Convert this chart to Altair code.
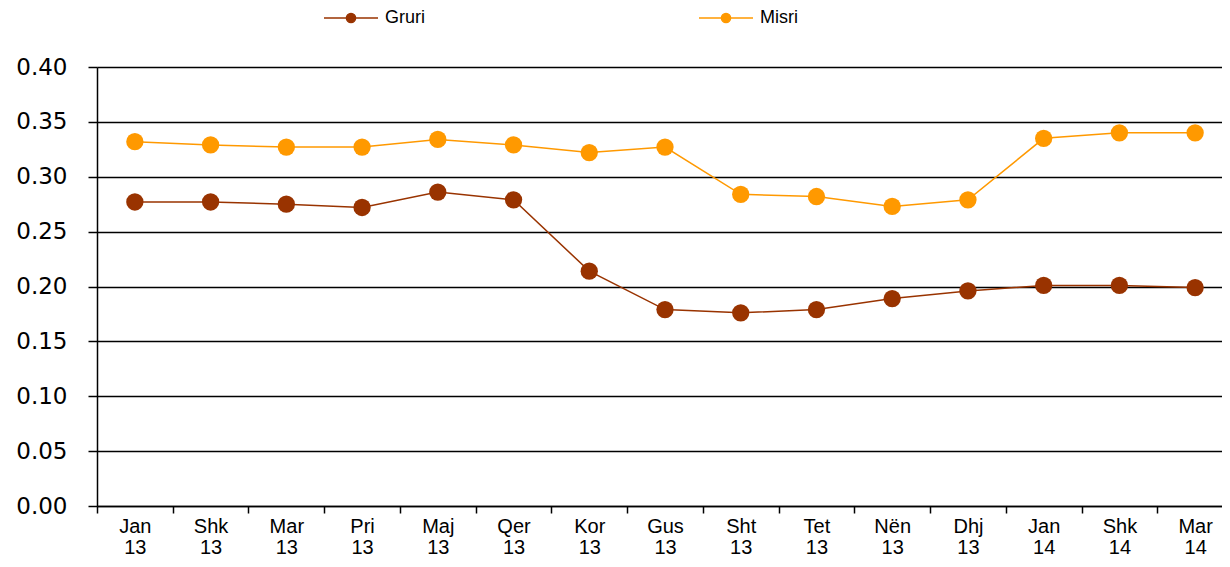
import altair as alt
import pandas as pd

months = ["Jan 13", "Shk 13", "Mar 13", "Pri 13", "Maj 13", "Qer 13", "Kor 13",
          "Gus 13", "Sht 13", "Tet 13", "Nën 13", "Dhj 13", "Jan 14", "Shk 14", "Mar 14"]
gruri = [0.277, 0.277, 0.275, 0.272, 0.286, 0.279, 0.214, 0.179, 0.176, 0.179,
         0.189, 0.196, 0.201, 0.201, 0.199]
misri = [0.332, 0.329, 0.327, 0.327, 0.334, 0.329, 0.322, 0.327, 0.284, 0.282,
         0.273, 0.279, 0.335, 0.340, 0.340]
series = ["Gruri", "Misri"]
colors = ["#993300", "#FF9900"]
y_ticks = [0.0, 0.05, 0.10, 0.15, 0.20, 0.25, 0.30, 0.35, 0.40]

rows = []
for i, m in enumerate(months):
    rows.append({"month": m, "series": "Gruri", "value": gruri[i]})
    rows.append({"month": m, "series": "Misri", "value": misri[i]})
df = pd.DataFrame(rows)

x = alt.X("month:N", sort=months,
          scale=alt.Scale(type="band", paddingInner=0, paddingOuter=0, range=[0, 1136]),
          axis=alt.Axis(title=None, labelAngle=0, labelExpr="split(datum.label, ' ')",
                        tickBand="extent", domainColor="black", domainWidth=1.5,
                        tickColor="black", tickWidth=1.5, tickSize=7,
                        labelFont="Liberation Sans", labelFontSize=20, labelColor="black",
                        labelPadding=3, labelLineHeight=21, grid=False))
y = alt.Y("value:Q", scale=alt.Scale(domain=[0, 0.4]),
          axis=alt.Axis(title=None, values=y_ticks, format=".2f", grid=True,
                        gridColor="black", gridWidth=1.5, domainColor="black",
                        domainWidth=1.5, tickColor="black", tickWidth=1.5, tickSize=9,
                        labelFont="DejaVu Sans", labelFontSize=23, labelColor="black",
                        labelPadding=21))
legend_path = ("M-1,0L1,0M0.17,0A0.17,0.17,0,1,1,-0.17,0A0.17,0.17,0,1,1,0.17,0Z")
color = alt.Color("series:N", scale=alt.Scale(domain=series, range=colors),
                  legend=alt.Legend(title=None, orient="none", direction="horizontal",
                                    legendX=226, legendY=-77, symbolType=legend_path,
                                    symbolSize=2916, symbolStrokeWidth=1.5,
                                    symbolOpacity=1, labelFont="Liberation Sans",
                                    labelFontSize=18, labelColor="black", labelOffset=6,
                                    columnPadding=271))

base = alt.Chart(df).encode(x=x, y=y, color=color)
lines = base.mark_line(strokeWidth=1.5)
pts = base.mark_point(filled=True, size=300, opacity=1)

chart = (lines + pts).properties(
    width=1125, height=439,
    padding={"left": 89, "top": 59, "right": 0, "bottom": 53},
    autosize=alt.AutoSizeParams(type="none"),
    background="white",
).configure_view(stroke=None)

chart.save("out.html", embed_options={"renderer": "svg", "actions": False})
